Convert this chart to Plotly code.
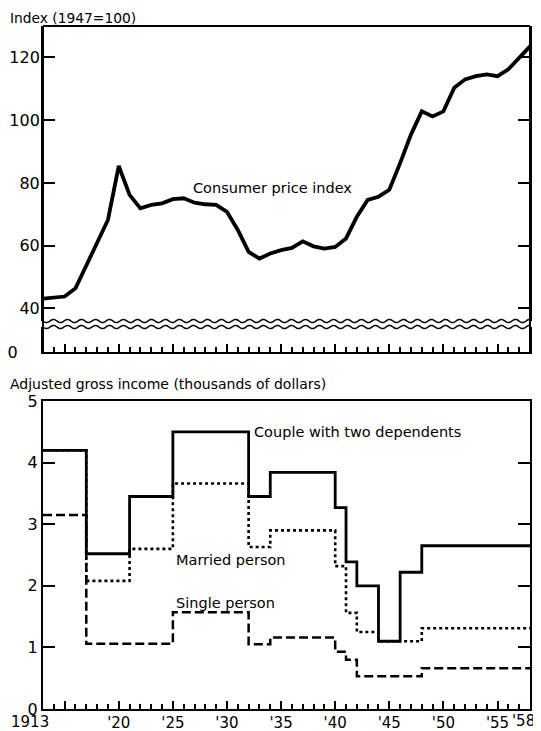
import numpy as np
import plotly.graph_objects as go

W, H = 541, 731
OFF = 8  # page body margin
FW, FH = W - OFF, H - OFF
FONT = "DejaVu Sans"

# Consumer price index, 1947 = 100 (annual)
cpi_years = list(range(1913, 1959))
cpi = [43.1, 43.4, 43.8, 46.4, 53.6, 61.0, 68.2, 85.4, 76.2, 71.9,
       73.0, 73.5, 74.8, 75.1, 73.7, 73.2, 73.0, 70.8, 65.0, 58.0,
       55.9, 57.5, 58.6, 59.3, 61.4, 59.8, 59.1, 59.6, 62.3, 69.2,
       74.6, 75.6, 77.8, 86.3, 95.4, 102.8, 101.2, 102.8, 110.3, 113.0,
       114.0, 114.6, 114.0, 116.2, 119.9, 123.5]

# Adjusted gross income at which tax begins (thousands of dollars), step changes
couple_years = [1913, 1917, 1921, 1925, 1932, 1934, 1940, 1941, 1942, 1944, 1946, 1948, 1958]
couple = [4.2, 2.52, 3.45, 4.5, 3.45, 3.84, 3.27, 2.39, 2.0, 1.1, 2.22, 2.65, 2.65]

married_years = [1913, 1917, 1921, 1925, 1932, 1934, 1940, 1941, 1942, 1944, 1948, 1958]
married = [4.2, 2.08, 2.6, 3.66, 2.63, 2.9, 2.32, 1.56, 1.25, 1.1, 1.31, 1.31]

single_years = [1913, 1917, 1925, 1932, 1934, 1940, 1941, 1942, 1948, 1958]
single = [3.15, 1.06, 1.57, 1.05, 1.16, 0.93, 0.80, 0.53, 0.66, 0.66]

major_years = [1915, 1920, 1925, 1930, 1935, 1940, 1945, 1950, 1955]
label_years = [1915, 1920, 1925, 1930, 1935, 1940, 1945, 1950, 1955]
label_text = ["", "'20", "'25", "'30", "'35", "'40", "'45", "'50", "'55"]


def px(x):
    return (x - OFF) / FW


def py(y):
    return 1 - (y - OFF) / FH


# pixel layout (window coordinates)
L, R = 43, 530
TOP1, BRK1, BRK2, BOT1 = 26, 321, 327, 352
TOP2, BOT2 = 401, 709

fig = go.Figure()

fig.add_trace(go.Scatter(x=cpi_years, y=cpi, mode="lines", xaxis="x", yaxis="y",
                         line=dict(color="black", width=3.8), hoverinfo="skip"))
# empty trace so the short "0" segment below the break gets its own subplot
fig.add_trace(go.Scatter(x=[], y=[], mode="lines", xaxis="x", yaxis="y2"))

fig.add_trace(go.Scatter(x=couple_years, y=couple, mode="lines", xaxis="x2", yaxis="y3",
                         line=dict(color="black", width=2.8, shape="hv")))
fig.add_trace(go.Scatter(x=married_years, y=married, mode="lines", xaxis="x2", yaxis="y3",
                         line=dict(color="black", width=2.6, shape="hv", dash="dot")))
fig.add_trace(go.Scatter(x=single_years, y=single, mode="lines", xaxis="x2", yaxis="y3",
                         line=dict(color="black", width=2.5, shape="hv", dash="9px,4px")))

tickfont = dict(family=FONT, size=16, color="black")
xfont = dict(family=FONT, size=15, color="black")
xcommon = dict(range=[1913, 1958], domain=[px(L), px(R)], showgrid=False, zeroline=False,
               automargin=False,
               showline=True, linecolor="black", linewidth=2,
               ticks="inside", tickvals=major_years, ticklen=8, tickwidth=1.5,
               tickcolor="black",
               minor=dict(dtick=1, tick0=1913, ticks="inside", ticklen=5,
                          tickwidth=1.5, tickcolor="black"))
ycommon = dict(showgrid=False, zeroline=False, showline=True, linecolor="black",
               automargin=False,
               linewidth=2, mirror="ticks", ticks="inside", ticklen=12, tickwidth=1.5,
               tickcolor="black", tickfont=tickfont)

fig.update_layout(
    width=FW, height=FH,
    margin=dict(l=0, r=0, t=0, b=0),
    paper_bgcolor="white", plot_bgcolor="white",
    showlegend=False,
    xaxis=dict(xcommon, anchor="y2", showticklabels=False),
    yaxis=dict(ycommon, domain=[py(BRK1), py(TOP1)], range=[36.0, 130.0], anchor="x",
               tickvals=[40, 60, 80, 100, 120], ticklabelstandoff=-2),
    yaxis2=dict(ycommon, domain=[py(BOT1), py(BRK2)], range=[0, 8], anchor="x",
                tickvals=[0], ticklen=0, ticklabelstandoff=20),
    xaxis2=dict(xcommon, anchor="y3", mirror=True, tickvals=label_years,
                ticktext=label_text, tickfont=xfont, ticklabelstandoff=-1),
    yaxis3=dict(ycommon, domain=[py(BOT2), py(TOP2)], range=[0, 5], anchor="x2",
                tickvals=[0, 1, 2, 3, 4, 5], ticklabelstandoff=0),
)

# frame of the upper panel (continuous through the axis break)
shapes = [
    dict(type="line", xref="paper", yref="paper", x0=px(L), x1=px(R), y0=py(TOP1), y1=py(TOP1),
         line=dict(color="black", width=2)),
    dict(type="line", xref="paper", yref="paper", x0=px(L), x1=px(L), y0=py(TOP1), y1=py(BOT1),
         line=dict(color="black", width=2)),
    dict(type="line", xref="paper", yref="paper", x0=px(R), x1=px(R), y0=py(TOP1), y1=py(BOT1),
         line=dict(color="black", width=2)),
]
# wavy break lines
xs = np.linspace(L, R, 400)
for base in (BRK1, BRK2):
    ys = base + 1.6 * np.sin(2 * np.pi * (xs - L) / 14.0)
    path = "M " + " L ".join(f"{px(a):.5f},{py(b):.5f}" for a, b in zip(xs, ys))
    shapes.append(dict(type="path", xref="paper", yref="paper", path=path,
                       line=dict(color="black", width=1.5)))
fig.update_layout(shapes=shapes)

txt = dict(family=FONT, size=14.5, color="black")
fig.add_annotation(x=px(8), y=1, xref="paper", yref="paper", text="Index (1947=100)",
                   showarrow=False, xanchor="left", yanchor="top", font=dict(txt, size=13.8))
fig.add_annotation(x=px(8), y=py(384), xref="paper", yref="paper",
                   text="Adjusted gross income (thousands of dollars)",
                   showarrow=False, xanchor="left", yanchor="middle", font=dict(txt, size=14))
# end labels of the year axis
fig.add_annotation(x=px(9), y=py(722), xref="paper", yref="paper", text="1913",
                   showarrow=False, xanchor="left", yanchor="middle", font=xfont)
fig.add_annotation(x=px(537), y=py(721), xref="paper", yref="paper", text="'58",
                   showarrow=False, xanchor="right", yanchor="middle", font=xfont)
fig.add_annotation(x=1934.2, y=78.4, xref="x", yref="y", text="Consumer price index",
                   showarrow=False, font=txt)
fig.add_annotation(x=1942.1, y=4.5, xref="x2", yref="y3", text="Couple with two dependents",
                   showarrow=False, font=txt)
fig.add_annotation(x=1930.4, y=2.42, xref="x2", yref="y3", text="Married person",
                   showarrow=False, font=txt)
fig.add_annotation(x=1929.9, y=1.72, xref="x2", yref="y3", text="Single person",
                   showarrow=False, font=txt)

fig.write_html("out.html")
